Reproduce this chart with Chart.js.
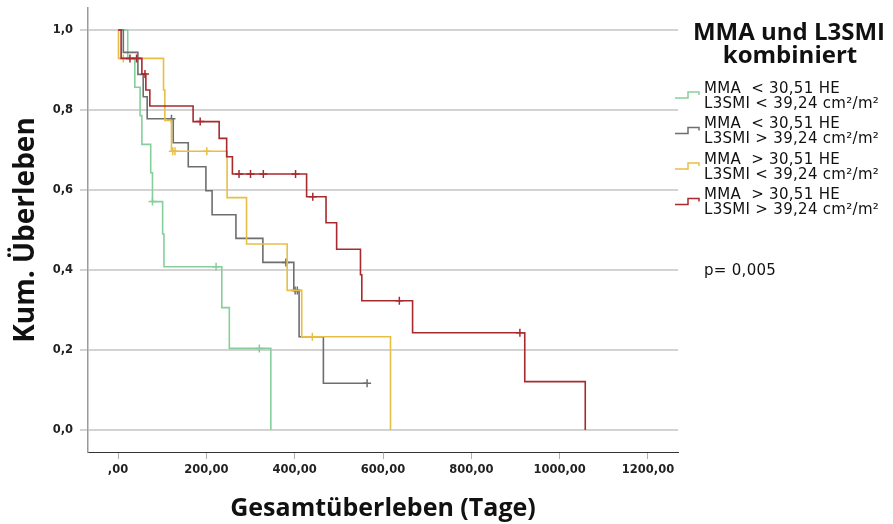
<!DOCTYPE html>
<html>
<head>
<meta charset="utf-8">
<script src="https://cdn.jsdelivr.net/npm/chart.js@4.4.1/dist/chart.umd.min.js"></script>
<style>
  html, body { margin: 0; padding: 0; background: #fff; }
  #wrap { width: 893px; height: 524px; position: relative; }
</style>
</head>
<body>
<div id="wrap"><canvas id="kmChart"></canvas></div>
<script>
// tick values
const xTicks = [0, 200, 400, 600, 800, 1000, 1200];
const yTicks = [0, 0.2, 0.4, 0.6, 0.8, 1.0];

// group labels (two lines each) and colours
const groupLabels = [
    ['MMA  < 30,51 HE', 'L3SMI < 39,24 cm\u00b2/m\u00b2'],
    ['MMA  < 30,51 HE', 'L3SMI > 39,24 cm\u00b2/m\u00b2'],
    ['MMA  > 30,51 HE', 'L3SMI < 39,24 cm\u00b2/m\u00b2'],
    ['MMA  > 30,51 HE', 'L3SMI > 39,24 cm\u00b2/m\u00b2']
];
const groupColors = ['#86cf9b', '#6e6e6e', '#e8bf45', '#a82a2e'];

// survival steps (days, cumulative survival) and censored times per group
const greenTimes = [0, 22, 38, 50, 54, 74, 78, 101, 104, 235, 252, 346];
const greenSurv  = [1, 0.929, 0.857, 0.786, 0.714, 0.643, 0.571, 0.49, 0.408, 0.306, 0.204, 0];
const greenCens  = [78, 222, 320];

const grayTimes = [0, 12, 45, 57, 66, 125, 159, 199, 213, 267, 328, 398, 410, 465];
const graySurv  = [1, 0.944, 0.889, 0.833, 0.778, 0.718, 0.658, 0.598, 0.538, 0.479, 0.419, 0.349, 0.233, 0.117];
const grayCens  = [121, 380, 401, 406, 564];

const yellowTimes = [0, 1, 103, 106, 121, 247, 291, 383, 416, 617];
const yellowSurv  = [1, 0.929, 0.85, 0.774, 0.697, 0.581, 0.465, 0.349, 0.233, 0];
const yellowCens  = [12, 124, 129, 201, 440];

const redTimes = [0, 7, 54, 63, 72, 170, 229, 246, 259, 427, 471, 495, 549, 552, 667, 921, 1058];
const redSurv  = [1, 0.929, 0.89, 0.85, 0.81, 0.771, 0.729, 0.683, 0.64, 0.583, 0.518, 0.452, 0.388, 0.323, 0.243, 0.121, 0];
const redCens  = [27, 42, 61, 186, 274, 300, 329, 402, 441, 637, 910];

const pValue = 'p= 0,005';

const groups = [
    [greenTimes, greenSurv, greenCens],
    [grayTimes, graySurv, grayCens],
    [yellowTimes, yellowSurv, yellowCens],
    [redTimes, redSurv, redCens]
];

function survAt(times, surv, t) {
    let s = surv[0];
    for (let i = 0; i < times.length; i++) {
        if (times[i] <= t) s = surv[i];
    }
    return s;
}

const datasets = [];
groups.forEach(function (g, i) {
    const [times, surv, cens] = g;
    const pts = times.map((t, k) => ({ x: t, y: surv[k] }));
    const lastCens = Math.max.apply(null, cens);
    if (lastCens > times[times.length - 1]) {
        pts.push({ x: lastCens, y: surv[surv.length - 1] });
    }
    datasets.push({
        data: pts,
        stepped: true,
        borderColor: groupColors[i],
        borderWidth: 1.6,
        pointRadius: 0,
        fill: false,
        order: 10 - i
    });
    datasets.push({
        data: cens.map(t => ({ x: t, y: survAt(times, surv, t) })),
        showLine: false,
        pointStyle: 'cross',
        pointRadius: 4,
        pointBorderWidth: 1.5,
        borderColor: groupColors[i],
        pointBorderColor: groupColors[i],
        order: 10 - i
    });
});

// legend and p-value drawn on the right side
const sideLegend = {
    id: 'sideLegend',
    afterDraw(chart) {
        const ctx = chart.ctx;
        ctx.save();
        ctx.fillStyle = '#111';
        ctx.textBaseline = 'middle';
        ctx.textAlign = 'center';
        ctx.font = 'bold 24px "Open Sans"';
        ctx.fillText('MMA und L3SMI', 789, 33);
        ctx.fillText('kombiniert', 790, 56);

        ctx.textAlign = 'left';
        ctx.font = '15px "DejaVu Sans"';
        ctx.letterSpacing = '0.3px';
        groupLabels.forEach(function (lab, i) {
            const y = 89 + i * 35.5;
            ctx.fillStyle = '#111';
            ctx.fillText(lab[0], 704, y);
            ctx.fillText(lab[1], 704, y + 15);
            ctx.strokeStyle = groupColors[i];
            ctx.lineWidth = 1.5;
            ctx.beginPath();
            ctx.moveTo(675, y + 9);
            ctx.lineTo(688, y + 9);
            ctx.lineTo(688, y + 3);
            ctx.lineTo(699, y + 3);
            ctx.lineTo(699, y + 6);
            ctx.stroke();
        });
        ctx.fillStyle = '#111';
        ctx.fillText(pValue, 704, 271);
        ctx.restore();
    }
};

const tickFont = { family: '"DejaVu Sans"', size: 11.5, weight: 'bold' };

new Chart(document.getElementById('kmChart').getContext('2d'), {
    type: 'line',
    data: { datasets: datasets },
    options: {
        responsive: true,
        maintainAspectRatio: false,
        animation: false,
        layout: { autoPadding: false, padding: { top: 8, right: 215, left: 0, bottom: 0 } },
        plugins: { legend: { display: false }, tooltip: { enabled: false } },
        scales: {
            x: {
                type: 'linear',
                min: -68,
                max: 1268,
                afterBuildTicks: s => { s.ticks = xTicks.map(v => ({ value: v })); },
                afterFit: s => { s.height = 72; },
                ticks: {
                    font: tickFont,
                    color: '#222',
                    padding: 4,
                    maxRotation: 0,
                    autoSkip: false,
                    callback: v => v === 0 ? ',00' : v.toFixed(2).replace('.', ',')
                },
                grid: { drawOnChartArea: false, drawTicks: true, tickLength: 7, color: '#b0b0b0' },
                border: { display: true, color: '#333', width: 1 },
                title: {
                    display: true,
                    text: 'Gesamt\u00fcberleben (Tage)',
                    font: { family: '"Open Sans"', size: 25, weight: 'bold' },
                    color: '#111',
                    padding: { top: 0, bottom: 0 }
                }
            },
            y: {
                min: -0.055,
                max: 1.055,
                afterBuildTicks: s => { s.ticks = yTicks.map(v => ({ value: v })); },
                afterFit: s => { s.width = 88; s.paddingTop = 0; s.paddingBottom = 0; },
                ticks: {
                    font: tickFont,
                    color: '#222',
                    padding: 7,
                    callback: v => v.toFixed(1).replace('.', ',')
                },
                grid: { color: '#d3d3d3', lineWidth: 2, tickLength: 8, drawTicks: true },
                border: { display: true, color: '#9a9a9a', width: 1.5 },
                title: {
                    display: true,
                    text: 'Kum. \u00dcberleben',
                    font: { family: '"Open Sans"', size: 28, weight: 'bold' },
                    color: '#111',
                    padding: { top: 9, bottom: 0 }
                }
            }
        }
    },
    plugins: [sideLegend]
});
</script>
</body>
</html>
